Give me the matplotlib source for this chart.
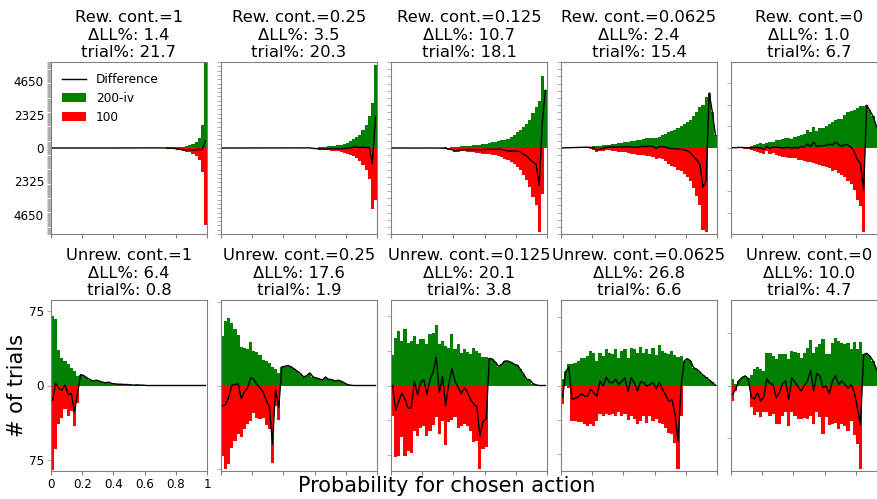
import numpy as np
import matplotlib
matplotlib.use("Agg")
import matplotlib.pyplot as plt
from matplotlib.ticker import MultipleLocator, FuncFormatter

# 50 bins over the probability for the chosen action
edges = np.linspace(0, 1, 51)
centers = (edges[:-1] + edges[1:]) / 2

contexts = ["Rew. cont.=1", "Rew. cont.=0.25", "Rew. cont.=0.125", "Rew. cont.=0.0625", "Rew. cont.=0",
            "Unrew. cont.=1", "Unrew. cont.=0.25", "Unrew. cont.=0.125", "Unrew. cont.=0.0625", "Unrew. cont.=0"]
dll_pct = [1.4, 3.5, 10.7, 2.4, 1.0, 6.4, 17.6, 20.1, 26.8, 10.0]
trial_pct = [21.7, 20.3, 18.1, 15.4, 6.7, 0.8, 1.9, 3.8, 6.6, 4.7]
y_limits = [6000, 1500, 900, 900, 298, 86, 76.8, 185, 187, 121.5]

# counts per bin, "200-iv" model (green, up) and "100" model (red, down)
green_rew1 = [0] * 20 + [5, 5, 8, 8, 10, 10, 12, 12, 15, 15, 18, 20, 22, 25, 28, 30, 32, 35, 38, 40,
                         40, 60, 90, 140, 180, 250, 420, 720, 1580, 5900]
red_rew1 = [0] * 20 + [3, 4, 5, 6, 6, 7, 8, 8, 9, 10, 10, 12, 15, 18, 20, 25, 30, 40, 50, 70,
                       110, 160, 210, 280, 300, 400, 540, 820, 1680, 5400]

green_rew025 = [0, 0, 0, 0, 0, 1, 1, 1, 1, 2, 2, 2, 2, 3, 3, 3, 3, 4, 4, 4, 5, 5, 5, 5, 6, 6, 6, 7, 7, 6,
                6, 12, 17, 23, 29, 35, 40, 46, 58, 75, 93, 120, 150, 190, 232, 320, 395, 550, 785, 1450]
red_rew025 = [0, 0, 0, 0, 0, 0, 1, 1, 1, 1, 1, 1, 2, 2, 2, 2, 2, 3, 3, 3, 3, 3, 4, 4, 4, 4, 5, 5, 5, 12,
              17, 29, 29, 41, 41, 46, 52, 58, 70, 81, 99, 116, 134, 169, 227, 302, 390, 535, 1057, 912]

green_rew0125 = [0, 0, 0, 1, 1, 1, 1, 2, 2, 2, 3, 3, 3, 4, 4, 5, 5, 6, 5, 7, 10, 14, 17, 17, 21,
                 24, 28, 31, 35, 42, 45, 52, 59, 63, 73, 80, 87, 98, 115, 133, 168, 192, 220, 255, 290,
                 366, 430, 492, 750, 604]
red_rew0125 = [0, 0, 0, 1, 1, 1, 2, 2, 2, 3, 3, 3, 4, 4, 5, 5, 6, 8, 17, 24, 42, 38, 35, 35, 38,
               42, 45, 49, 52, 59, 59, 66, 70, 77, 84, 94, 112, 129, 147, 164, 199, 234, 286, 339, 408,
               513, 600, 880, 478, 0]

green_rew00625 = [1, 2, 3, 4, 5, 6, 8, 10, 12, 15, 17, 21, 24, 28, 31, 35, 38, 45, 49, 52,
                  59, 63, 70, 73, 80, 87, 94, 101, 105, 108, 105, 115, 133, 150, 164, 178, 192, 213, 227, 255,
                  272, 297, 332, 377, 429, 450, 530, 576, 377, 133]
red_rew00625 = [0, 0, 0, 0, 0, 0, 1, 2, 4, 8, 17, 42, 35, 31, 24, 24, 28, 35, 38, 42,
                45, 52, 59, 66, 70, 73, 77, 85, 88, 92, 110, 100, 120, 140, 165, 185, 200, 225, 240, 275,
                300, 350, 420, 500, 600, 860, 880, 0, 0, 0]

green_rew0 = [1, 1, 2, 2, 3, 5, 8, 12, 15, 16, 15, 18, 20, 22, 26, 28, 30, 33, 36, 32,
              38, 42, 45, 48, 62, 55, 72, 60, 68, 70, 75, 84, 90, 96, 100, 100, 113, 125, 128, 133,
              140, 146, 145, 148, 130, 110, 80, 55, 40, 30]
red_rew0 = [0, 0, 0, 0, 2, 4, 8, 10, 14, 16, 20, 12, 22, 18, 24, 26, 30, 32, 34, 33,
            36, 42, 40, 44, 48, 50, 52, 55, 60, 62, 66, 70, 80, 75, 88, 95, 100, 115, 125, 145,
            180, 200, 291, 0, 0, 0, 0, 0, 0, 0]

green_unrew1 = [70, 66.5, 36, 28, 24.5, 22, 18, 14.5, 9.4, 11, 10, 7.7, 6, 4.4, 5.4, 4.4, 3.4, 2.7, 3.4, 2,
                1.7, 1.3, 1.3, 1, 1, 0.7, 0.4, 0.7, 0.4, 0.4] + [0] * 20
red_unrew1 = [85, 64, 39, 33, 24, 31, 26, 41, 17.5] + [0] * 41

green_unrew025 = [44.6, 58, 60.4, 56, 50.6, 45.5, 35, 33.6, 32.7, 38.7, 30.7, 29.8, 27.7, 23.2, 22.3,
                  20.2, 16.7, 14.9, 11.3, 16.7, 17.3, 17.9, 16.7, 14.9, 12.8, 10.7, 7.7, 8.9, 11.3, 7.7,
                  6.8, 6, 4.8, 7.7, 5.4, 5.4, 3.9, 4.8, 3.9, 2.4, 0.9, 0.3] + [0] * 8
red_unrew025 = [63, 75, 70.5, 55.7, 49.7, 43.7, 46.7, 39.3, 34.8, 31.8, 25, 28.9, 29.8, 28.9, 35.7,
                39.3, 69.4, 18.5, 31.3] + [0] * 31

green_unrew0125 = [65.6, 101.7, 118, 96.6, 122, 93, 96.6, 107, 89.4, 100, 100, 89.4, 111, 114.6, 130.5,
                   89.4, 96.6, 85.8, 82.2, 111, 78.6, 89.4, 71.4, 78.6, 72.8, 67.8, 82.2, 75, 71.4, 60.6,
                   60.6, 59, 57, 50, 41, 46, 53, 53, 50, 46, 44, 35, 24.5, 13.7, 12.3, 4.3, 1.4, 0, 0, 0]
red_unrew0125 = [65.6, 155.7, 152, 112.5, 152, 142.8, 145, 98, 109, 93, 87.2, 109, 98, 85.8, 69.2,
                 105, 76.4, 129, 80, 74.3, 69.2, 93, 88.7, 83.6, 87.2, 98, 123, 119.7, 181, 137.7,
                 134] + [0] * 19

green_unrew00625 = [15.3, 32, 46.6, 46.6, 48.8, 54, 61, 61, 64.8, 75.7, 72, 54, 72, 64.8, 80.8, 72, 68.4,
                    79.4, 61, 75.7, 79.4, 61, 83, 79.4, 72, 85.2, 72, 79.4, 68.4, 83, 66.2, 88, 75.7, 72,
                    68.4, 75.7, 66.2, 62, 64.8, 54, 59, 54, 39, 35.7, 30, 22.6, 17.5, 12.4, 6.6, 0.7]
red_unrew00625 = [41, 2, 6, 76.6, 77, 79, 79, 84, 88, 84, 88, 77, 62.6, 66, 62.6, 65, 62.6, 66, 59, 66,
                  62.6, 75, 66, 73.5, 84, 77, 66, 81, 66, 77, 73.5, 81, 84, 92, 103, 106, 126, 183, 66] + [0] * 11

green_unrew0 = [9, 2, 6.6, 11.3, 13.7, 10, 14.6, 23, 27, 23, 20.8, 46.7, 45.8, 42, 37.3, 44.3, 45.3, 44.3,
                37.3, 49, 47.6, 45.8, 39.6, 46.7, 53.8, 64.6, 46.7, 55.2, 58.5, 65.6, 44.3, 44.3, 60.8, 67.9,
                63.2, 60.8, 58.5, 60, 51.4, 61.8, 51.4, 62, 44.3, 45.8, 42, 35, 25, 13.7, 4, 1]
red_unrew0 = [21.7, 7.5, 0, 0, 0, 0, 31, 42, 37, 45, 37, 37, 43, 40.6, 54.7, 54.7, 43, 38, 57, 38,
              43, 47.6, 47.6, 46.7, 47.6, 43, 54.7, 38, 45, 68.9, 45, 56, 54.7, 53.8, 61.8, 54.7, 57, 64, 50, 71,
              83, 118] + [0] * 8

green_all = [green_rew1, green_rew025, green_rew0125, green_rew00625, green_rew0,
             green_unrew1, green_unrew025, green_unrew0125, green_unrew00625, green_unrew0]
red_all = [red_rew1, red_rew025, red_rew0125, red_rew00625, red_rew0,
           red_unrew1, red_unrew025, red_unrew0125, red_unrew00625, red_unrew0]

fig = plt.figure(figsize=(8.78, 4.99), dpi=100)
W, H = 878.0, 499.0
spine_col = '0.5'


def make_formatter(keep):
    def fmt(v, pos):
        r = int(round(abs(v)))
        return str(r) if r in keep else ''
    return FuncFormatter(fmt)


for k in range(10):
    row, col = divmod(k, 5)
    left = 51 + 170 * col
    top, bottom = (62, 234) if row == 0 else (300, 471)
    ax = fig.add_axes([left / W, (H - bottom) / H, 156 / W, (bottom - top) / H])

    g = np.array(green_all[k], dtype=float)
    r = np.array(red_all[k], dtype=float)
    ax.plot(centers, g - r, color='black', linewidth=1.0, label='Difference', zorder=3)
    ax.bar(edges[:-1], g, width=0.02, align='edge', color='green', linewidth=0, label='200-iv')
    ax.bar(edges[:-1], -r, width=0.02, align='edge', color='red', linewidth=0, label='100')

    ax.set_xlim(0, 1)
    ax.set_ylim(-y_limits[k], y_limits[k])
    ax.yaxis.set_major_locator(MultipleLocator(75))
    ax.set_xticks([0, 0.2, 0.4, 0.6, 0.8, 1])
    ax.tick_params(colors=spine_col, labelcolor='black', labelsize=8.6, length=3, pad=2, width=0.8)
    ax.tick_params(axis='y', width=0.5, colors='0.55', labelcolor='black')
    for s in ax.spines.values():
        s.set_color(spine_col)

    if col == 0:
        keep = {0, 2325, 4650} if row == 0 else {0, 75}
        ax.yaxis.set_major_formatter(make_formatter(keep))
    else:
        ax.set_yticklabels([])
    if k == 5:
        ax.set_xticklabels(['0', '0.2', '0.4', '0.6', '0.8', '1'])
    else:
        ax.set_xticklabels([])

    ax.set_title(f"{contexts[k]}\nΔLL%: {dll_pct[k]:.1f}\ntrial%: {trial_pct[k]:.1f}",
                 fontsize=11.8, pad=3.5)

    if k == 0:
        ax.legend(loc='upper left', frameon=False, fontsize=8.7)

fig.text(446.5 / W, 7 / H, 'Probability for chosen action', ha='center', va='baseline', fontsize=15)
fig.text(17.5 / W, (H - 385.5) / H, '# of trials', rotation=90, ha='center', va='center', fontsize=15)

fig.savefig('out.png', dpi=100)
